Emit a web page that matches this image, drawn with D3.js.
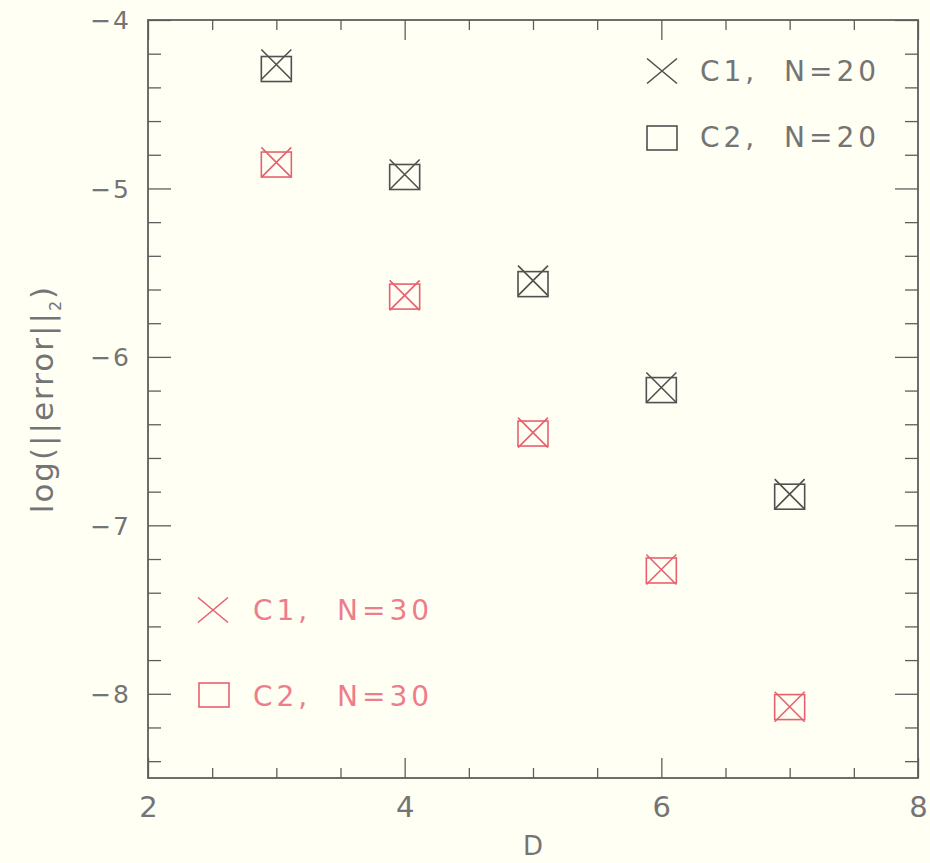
<!DOCTYPE html>
<html>
<head>
<meta charset="utf-8">
<script src="https://cdn.jsdelivr.net/npm/d3@7"></script>
<style>
  html, body { margin: 0; padding: 0; background: #fffff4; }
  svg { display: block; }
  text { font-family: "DejaVu Sans", sans-serif; }
</style>
</head>
<body>
<svg id="chart" width="930" height="863"></svg>
<script>
// Polynomial degree D and log of the L2 error for two schemes (C1, C2) at two resolutions
const degrees = [3, 4, 5, 6, 7];
const c1N20 = [-4.264, -4.917, -5.547, -6.182, -6.815];
const c2N20 = [-4.291, -4.932, -5.568, -6.197, -6.830];
const c1N30 = [-4.845, -5.635, -6.450, -7.262, -8.077];
const c2N30 = [-4.858, -5.642, -6.455, -7.268, -8.079];

const xMajorTicks = [2, 4, 6, 8];
const xMinorTicks = [2.5, 3, 3.5, 4.5, 5, 5.5, 6.5, 7, 7.5];
const yMajorTicks = [-4, -5, -6, -7, -8];
const yMinorTicks = [-4.2, -4.4, -4.6, -4.8, -5.2, -5.4, -5.6, -5.8, -6.2, -6.4, -6.6, -6.8,
                     -7.2, -7.4, -7.6, -7.8, -8.2, -8.4];

const BLACK = "#505050";
const RED = "#e8606f";
const AXIS = "#5e5e5e";
const TEXT = "#747474";
const RED_TEXT = "#ee7d8b";

const svg = d3.select("#chart");
const plotLeft = 148, plotRight = 918, plotTop = 20, plotBottom = 778;

const x = d3.scaleLinear().domain([2, 8]).range([plotLeft, plotRight]);
const y = d3.scaleLinear().domain([-8.5, -4]).range([plotBottom, plotTop]);

const fmt = d => (d < 0 ? "\u2212" : "") + Math.abs(d);

// Inward tick marks on all four sides
function ticks(axisGen, values, size, translate) {
  const g = svg.append("g").attr("transform", translate)
    .call(axisGen.tickValues(values).tickSize(size).tickSizeOuter(0).tickFormat(""));
  g.select(".domain").remove();
  g.selectAll(".tick line").attr("stroke", AXIS).attr("stroke-width", 1.3);
  return g;
}
ticks(d3.axisTop(x), xMajorTicks, 20, `translate(0,${plotBottom})`);
ticks(d3.axisTop(x), xMinorTicks, 10, `translate(0,${plotBottom})`);
ticks(d3.axisBottom(x), xMajorTicks, 20, `translate(0,${plotTop})`);
ticks(d3.axisBottom(x), xMinorTicks, 10, `translate(0,${plotTop})`);
ticks(d3.axisRight(y), yMajorTicks, 23, `translate(${plotLeft},0)`);
ticks(d3.axisRight(y), yMinorTicks, 13, `translate(${plotLeft},0)`);
ticks(d3.axisLeft(y), yMajorTicks, 23, `translate(${plotRight},0)`);
ticks(d3.axisLeft(y), yMinorTicks, 13, `translate(${plotRight},0)`);

// Frame
svg.append("rect")
  .attr("x", plotLeft).attr("y", plotTop)
  .attr("width", plotRight - plotLeft).attr("height", plotBottom - plotTop)
  .attr("fill", "none").attr("stroke", AXIS).attr("stroke-width", 1.8);

// Tick labels
const xLab = svg.append("g").attr("transform", `translate(0,${plotBottom})`)
  .call(d3.axisBottom(x).tickValues(xMajorTicks).tickSize(0).tickPadding(0).tickFormat(fmt));
xLab.select(".domain").remove();
xLab.selectAll("text")
  .attr("dy", null).attr("y", 39)
  .attr("font-size", 29).attr("fill", TEXT)
  .style("font-family", "'DejaVu Sans', sans-serif");

const yLab = svg.append("g").attr("transform", `translate(${plotLeft},0)`)
  .call(d3.axisLeft(y).tickValues(yMajorTicks).tickSize(0).tickPadding(0).tickFormat(fmt));
yLab.select(".domain").remove();
yLab.selectAll("text")
  .attr("x", -17).attr("dy", "0.35em")
  .attr("font-size", 25).attr("fill", TEXT)
  .attr("letter-spacing", 2)
  .style("font-family", "'DejaVu Sans', sans-serif");

// Axis titles
svg.append("text")
  .attr("x", x(5)).attr("y", 855)
  .attr("text-anchor", "middle")
  .attr("font-size", 26).attr("fill", TEXT)
  .text("D");

const yTitle = svg.append("text")
  .attr("transform", `translate(53,${(plotTop + plotBottom) / 2}) rotate(-90)`)
  .attr("text-anchor", "middle")
  .attr("font-size", 31).attr("fill", TEXT)
  .attr("letter-spacing", 2);
yTitle.append("tspan").text("log(||error||");
yTitle.append("tspan").attr("font-size", 16).attr("dy", 8).text("2");
yTitle.append("tspan").attr("dy", -8).text(")");

// Marker shapes
function cross(g, cx, cy, hw, hh, color) {
  g.append("path")
    .attr("d", `M${cx - hw},${cy - hh}L${cx + hw},${cy + hh}M${cx - hw},${cy + hh}L${cx + hw},${cy - hh}`)
    .attr("stroke", color).attr("stroke-width", 1.6).attr("fill", "none");
}
function square(g, cx, cy, hw, hh, color) {
  g.append("rect")
    .attr("x", cx - hw).attr("y", cy - hh)
    .attr("width", 2 * hw).attr("height", 2 * hh)
    .attr("stroke", color).attr("stroke-width", 1.6).attr("fill", "none");
}

const series = [
  { values: c2N20, shape: square, color: BLACK },
  { values: c1N20, shape: cross, color: BLACK },
  { values: c2N30, shape: square, color: RED },
  { values: c1N30, shape: cross, color: RED }
];

const marks = svg.append("g");
series.forEach(s => {
  degrees.forEach((d, i) => {
    const hh = s.shape === square ? 12.5 : 15;
    s.shape(marks, x(d), y(s.values[i]), 15, hh, s.color);
  });
});

// Legends
const legend = svg.append("g");
const legendItems = [
  { shape: cross, color: BLACK, textColor: TEXT, label: "C1,  N=20", mx: 662, my: 71, tx: 700, ty: 81 },
  { shape: square, color: BLACK, textColor: TEXT, label: "C2,  N=20", mx: 662, my: 138, tx: 700, ty: 147 },
  { shape: cross, color: RED, textColor: RED_TEXT, label: "C1,  N=30", mx: 213, my: 610, tx: 253, ty: 620 },
  { shape: square, color: RED, textColor: RED_TEXT, label: "C2,  N=30", mx: 214, my: 695, tx: 253, ty: 706 }
];
legendItems.forEach(it => {
  it.shape(legend, it.mx, it.my, 15, it.shape === square ? 12 : 12.5, it.color);
  legend.append("text")
    .attr("x", it.tx).attr("y", it.ty)
    .attr("font-size", 28).attr("fill", it.textColor)
    .attr("letter-spacing", 4)
    .attr("xml:space", "preserve")
    .style("white-space", "pre")
    .text(it.label);
});
</script>
</body>
</html>
